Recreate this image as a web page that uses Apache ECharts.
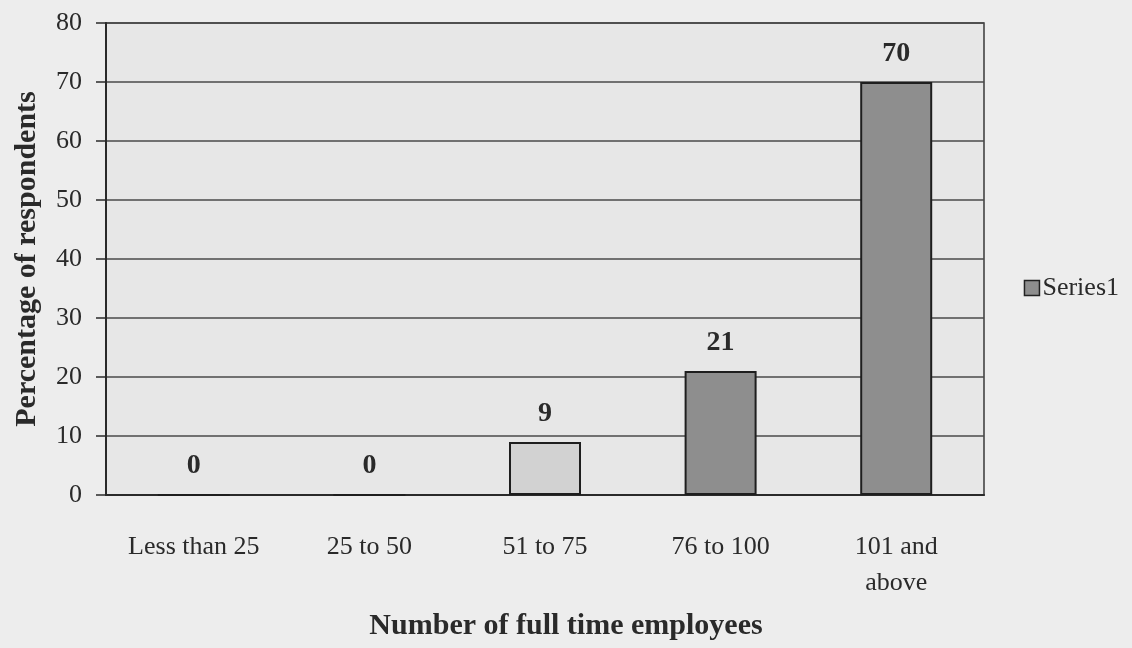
<!DOCTYPE html>
<html>
<head>
<meta charset="utf-8">
<script src="https://cdn.jsdelivr.net/npm/echarts@6/dist/echarts.min.js"></script>
<style>
  html, body { margin: 0; padding: 0; background: #ededed; }
  #chart { width: 1132px; height: 648px; }
</style>
</head>
<body>
<div id="chart"></div>
<script>
// Employee-size bands and the share of respondents in each
const categories = ['Less than 25', '25 to 50', '51 to 75', '76 to 100', '101 and\nabove'];
const percentages = [0, 0, 9, 21, 70];
const seriesName = 'Series1';
const xTitle = 'Number of full time employees';
const yTitle = 'Percentage of respondents';

const serif = '"Liberation Serif", "Times New Roman", serif';
const ink = '#2a2a2a';
// the 51–75 bar prints much paler than the others
const barFills = ['#8e8e8e', '#8e8e8e', '#d2d2d2', '#8e8e8e', '#8e8e8e'];

const chart = echarts.init(document.getElementById('chart'));
chart.setOption({
  backgroundColor: '#ededed',
  animation: false,
  title: {
    text: xTitle,
    left: 'center',
    bottom: 2,
    textStyle: { fontFamily: serif, fontSize: 30, fontWeight: 'bold', color: ink }
  },
  legend: {
    data: [seriesName],
    right: 8,
    top: 270,
    itemWidth: 15,
    itemHeight: 15,
    itemGap: 4,
    icon: 'rect',
    textStyle: { fontFamily: serif, fontSize: 26, color: ink, padding: [0, 0, 0, -2] },
    itemStyle: { color: '#8e8e8e', borderColor: '#222', borderWidth: 1.5 }
  },
  grid: {
    left: 106, right: 148, top: 23, bottom: 153,
    outerBoundsMode: 'none',
    containLabel: false,
    show: true,
    backgroundColor: '#e7e7e7',
    borderColor: '#3a3a3a',
    borderWidth: 1.5
  },
  xAxis: {
    type: 'category',
    data: categories,
    axisLine: { lineStyle: { color: '#2a2a2a', width: 2 } },
    axisTick: { show: false },
    axisLabel: {
      fontFamily: serif, fontSize: 26, color: ink, margin: 34, lineHeight: 36,
      interval: 0
    },
    splitLine: { show: false }
  },
  yAxis: {
    type: 'value',
    min: 0, max: 80, interval: 10,
    name: yTitle,
    nameLocation: 'middle',
    nameGap: 64,
    nameTextStyle: { fontFamily: serif, fontSize: 30, fontWeight: 'bold', color: ink },
    axisLine: { show: true, lineStyle: { color: '#2a2a2a', width: 2 } },
    axisTick: { show: true, length: 10, lineStyle: { color: '#2a2a2a', width: 1.5 } },
    axisLabel: { fontFamily: serif, fontSize: 26, color: ink, margin: 24 },
    splitLine: { show: true, lineStyle: { color: '#4a4a4a', width: 1.5 } }
  },
  series: [{
    name: seriesName,
    type: 'bar',
    barWidth: 72,
    data: percentages.map((v, i) => ({ value: v, itemStyle: { color: barFills[i] } })),
    itemStyle: { borderColor: '#1e1e1e', borderWidth: 2 },
    label: {
      show: true,
      position: 'top',
      distance: 14,
      fontFamily: serif,
      fontSize: 28,
      fontWeight: 'bold',
      color: ink
    }
  }]
});
</script>
</body>
</html>
